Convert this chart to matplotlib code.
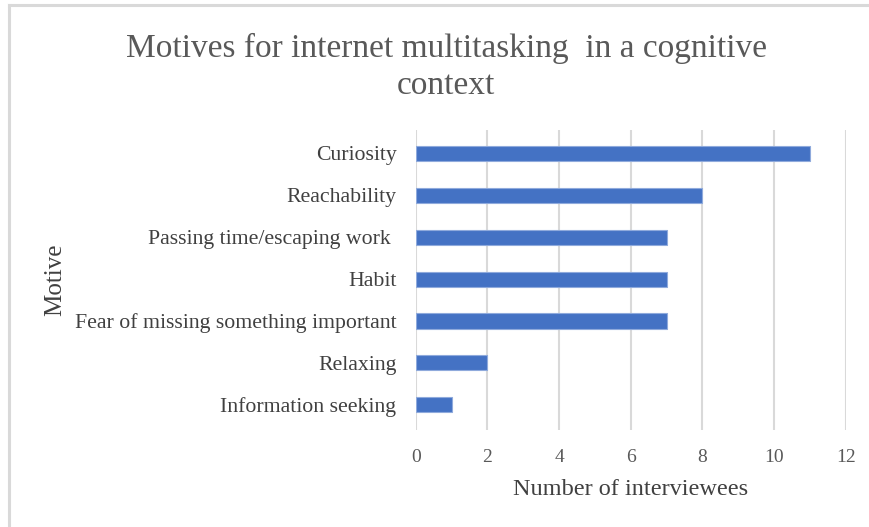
import matplotlib
matplotlib.use('Agg')
import matplotlib.pyplot as plt
from matplotlib.lines import Line2D

# interview counts per motive (top to bottom)
motives = ['Curiosity', 'Reachability', 'Passing time/escaping work ', 'Habit',
           'Fear of missing something important', 'Relaxing', 'Information seeking']
counts = [11, 8, 7, 7, 7, 2, 1]
xticks = [0, 2, 4, 6, 8, 10, 12]

plt.rcParams['font.family'] = ['Liberation Serif', 'DejaVu Serif']

fig = plt.figure(figsize=(8.7, 5.27), dpi=100)
ax = fig.add_axes([0.478, 0.184, 0.494, 0.569])

ypos = list(range(len(motives)))[::-1]
ax.barh(ypos, counts, height=0.36, color='#4472c4', edgecolor='#8faadc', linewidth=0.8, zorder=3)

ax.set_xlim(0, 12)
ax.set_ylim(-0.6, len(motives) - 0.45)
ax.set_xticks(xticks)
ax.set_xticklabels([str(t) for t in xticks], fontsize=14, color='#595959')
ax.set_yticks(ypos)
ax.set_yticklabels(motives, fontsize=15.7, color='#404040')
ax.tick_params(length=0)
ax.tick_params(axis='x', pad=14)
ax.tick_params(axis='y', pad=14)
ax.grid(axis='x', color='#d9d9d9', linewidth=1.5, zorder=0)
for s in ax.spines.values():
    s.set_visible(False)

ax.set_xlabel('Number of interviewees', fontsize=17.5, color='#404040', labelpad=9)
fig.text(0.063, 0.47, 'Motive', rotation=90, fontsize=18, color='#404040',
         ha='center', va='center')

fig.text(0.513, 0.873, 'Motives for internet multitasking  in a cognitive\ncontext',
         fontsize=24, color='#595959', ha='center', va='center', linespacing=1.3)

# light frame around the chart area
fig.add_artist(Line2D([0.0105, 0.0105], [0, 0.99], color='#d9d9d9', linewidth=2.2,
                      transform=fig.transFigure))
fig.add_artist(Line2D([0.0105, 1], [0.99, 0.99], color='#d9d9d9', linewidth=2.2,
                      transform=fig.transFigure))

fig.savefig('out.png', dpi=100, facecolor='white')
